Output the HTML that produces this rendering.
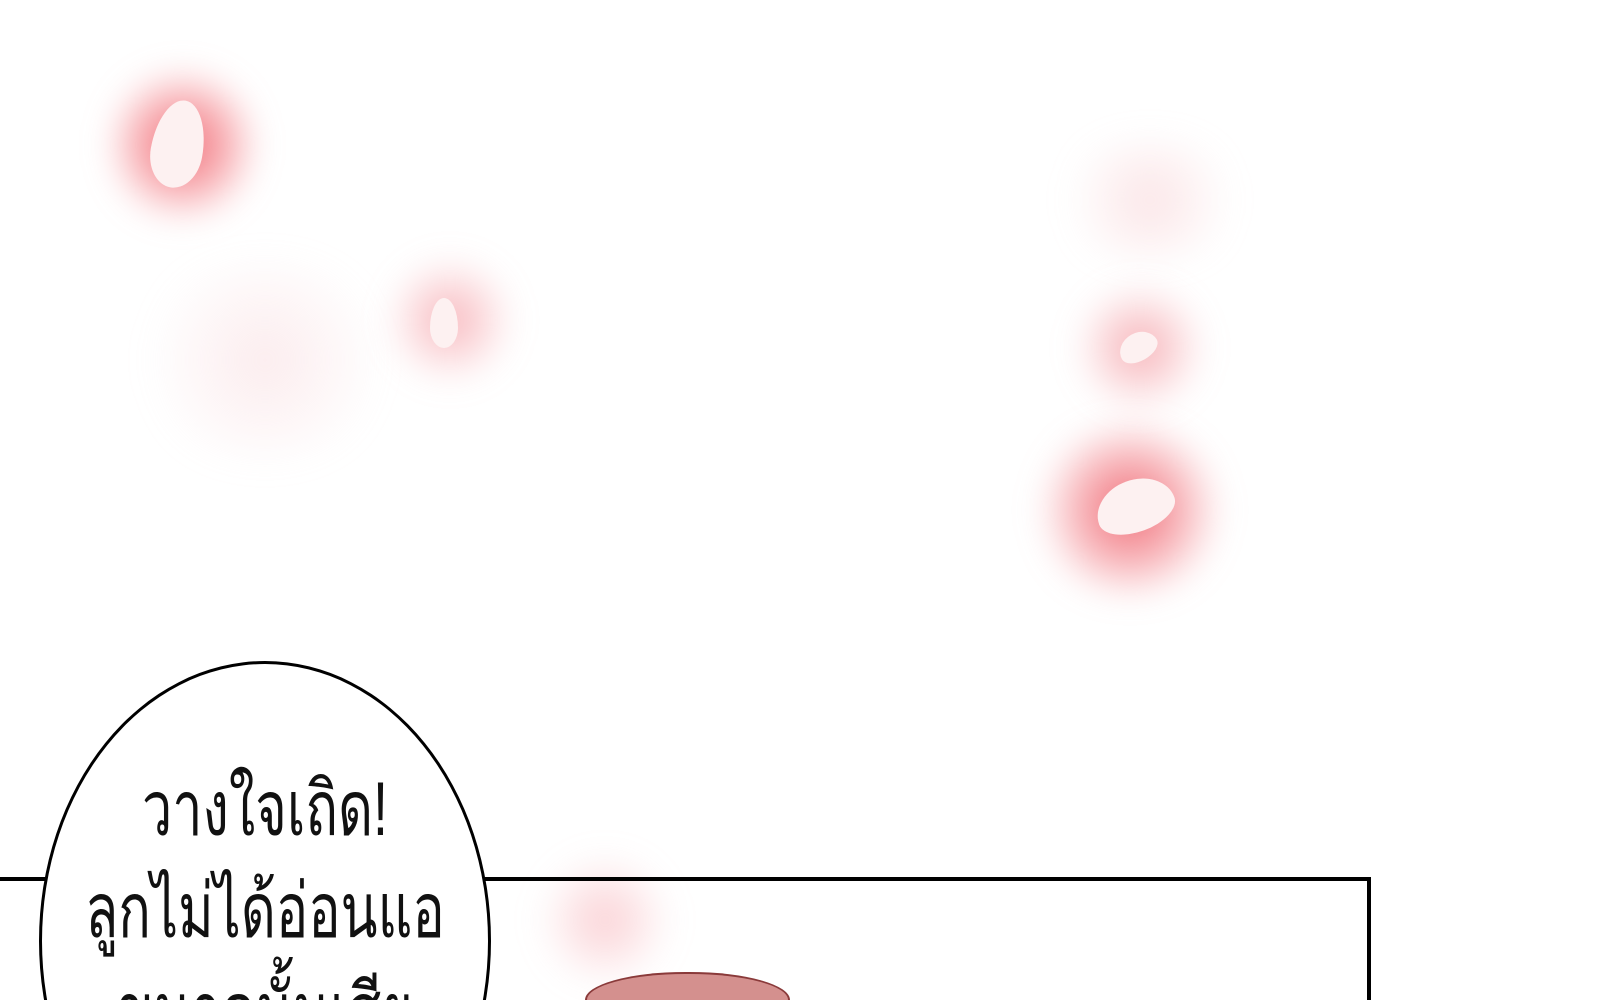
<!DOCTYPE html>
<html><head><meta charset="utf-8"><style>
html,body{margin:0;padding:0;background:#fff;width:1600px;height:1000px;overflow:hidden;}
#scene{position:relative;width:1600px;height:1000px;overflow:hidden;background:#fff;font-family:"Liberation Sans","Noto Sans CJK SC",sans-serif;}
.glow{position:absolute;border-radius:50%;filter:blur(16px);}
.petal{position:absolute;background:#fdf1f1;border-radius:50% 50% 50% 50%/60% 60% 40% 40%;}
.txt{position:absolute;width:700px;white-space:nowrap;text-align:center;font-size:76px;line-height:90px;color:#111;transform:scaleX(0.71);transform-origin:center;}
</style></head><body>
<div id="scene">
  <div class="glow" style="left:110px;top:65px;width:145px;height:160px;background:radial-gradient(circle,#f26f78 0%,rgba(242,111,120,0.55) 40%,rgba(255,255,255,0) 72%);"></div>
  <div class="petal" style="left:152px;top:100px;width:52px;height:88px;transform:rotate(10deg);"></div>
  <div class="glow" style="left:385px;top:255px;width:130px;height:130px;background:radial-gradient(circle,rgba(242,130,140,0.6) 0%,rgba(255,255,255,0) 70%);"></div>
  <div class="petal" style="left:430px;top:298px;width:28px;height:50px;"></div>
  <div class="glow" style="left:130px;top:260px;width:270px;height:200px;background:radial-gradient(circle,rgba(245,200,205,0.35) 0%,rgba(255,255,255,0) 70%);"></div>
  <div class="glow" style="left:1050px;top:140px;width:200px;height:120px;background:radial-gradient(circle,rgba(245,190,195,0.4) 0%,rgba(255,255,255,0) 70%);"></div>
  <div class="glow" style="left:1070px;top:285px;width:140px;height:125px;background:radial-gradient(circle,rgba(240,120,130,0.6) 0%,rgba(255,255,255,0) 70%);"></div>
  <div class="petal" style="left:1118px;top:333px;width:40px;height:28px;transform:rotate(-30deg);"></div>
  <div class="glow" style="left:1030px;top:425px;width:200px;height:170px;background:radial-gradient(circle,#f06a74 0%,rgba(240,106,116,0.5) 38%,rgba(255,255,255,0) 70%);"></div>
  <div class="petal" style="left:1095px;top:480px;width:80px;height:52px;transform:rotate(-20deg);"></div>
  <div class="glow" style="left:540px;top:850px;width:130px;height:140px;background:radial-gradient(circle,rgba(245,160,168,0.5) 0%,rgba(255,255,255,0) 70%);"></div>
  <div style="position:absolute;left:-10px;top:877px;width:1381px;height:123px;border:4px solid #000;border-bottom:none;box-sizing:border-box;"></div>
  <div style="position:absolute;left:585px;top:972px;width:205px;height:28px;background:#d4908e;border:2px solid #8a3a3a;border-bottom:none;border-radius:100px 100px 0 0/28px 28px 0 0;box-sizing:border-box;"></div>
  <div style="position:absolute;left:39px;top:661px;width:452px;height:339px;overflow:hidden;">
    <div style="position:absolute;left:0;top:0;width:452px;height:560px;border:3px solid #000;border-radius:50%;background:#fff;box-sizing:border-box;"></div>
  </div>
  <div style="position:absolute;left:0;top:0;width:1600px;height:1000px;overflow:hidden;">
    <div class="txt" style="left:-85px;top:765px;">วางใจเถิด!</div>
    <div class="txt" style="left:-85px;top:867px;">ลูกไม่ได้อ่อนแอ</div>
    <div class="txt" style="left:-85px;top:967px;">ขนาดนั้นเสีย</div>
  </div>
</div>
</body></html>
